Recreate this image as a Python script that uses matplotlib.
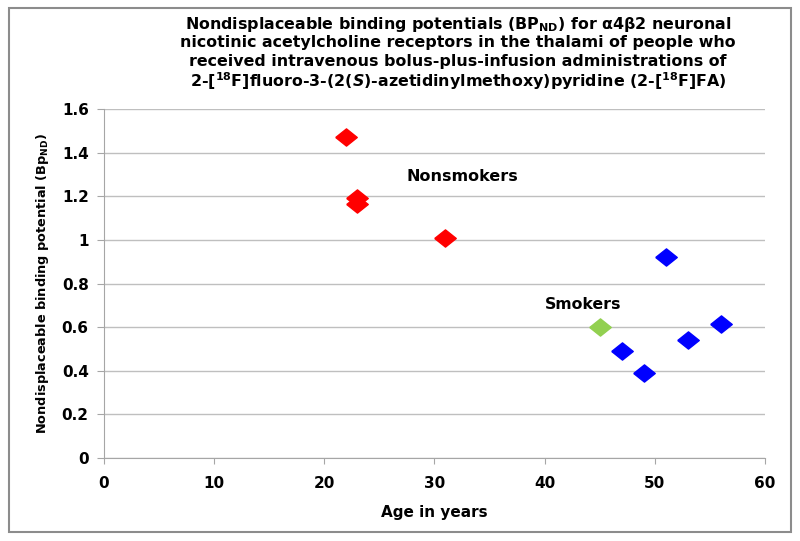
import matplotlib
matplotlib.use("Agg")
import matplotlib.pyplot as plt
from matplotlib.patches import Rectangle

plt.rcParams['font.family'] = ['DejaVu Sans']
plt.rcParams['font.weight'] = 'bold'
plt.rcParams['mathtext.fontset'] = 'custom'
plt.rcParams['mathtext.default'] = 'regular'
plt.rcParams['mathtext.it'] = 'DejaVu Sans:italic:bold'
plt.rcParams['mathtext.rm'] = 'DejaVu Sans:bold'

# data
nonsmoker_age = [22, 23, 23, 31]
nonsmoker_bp = [1.47, 1.19, 1.165, 1.01]
smoker_age = [47, 49, 51, 53, 56]
smoker_bp = [0.49, 0.39, 0.92, 0.54, 0.615]
green_age = [45]
green_bp = [0.60]

xticks = [0, 10, 20, 30, 40, 50, 60]
yticks = [0, 0.2, 0.4, 0.6, 0.8, 1, 1.2, 1.4, 1.6]
ytick_labels = ['0', '0.2', '0.4', '0.6', '0.8', '1', '1.2', '1.4', '1.6']

title_lines = ["Nondisplaceable binding potentials (BP$_{ND}$) for α4β2 neuronal",
               "nicotinic acetylcholine receptors in the thalami of people who",
               "received intravenous bolus-plus-infusion administrations of",
               "2-[$^{18}$F]fluoro-3-(2($\\it{S}$)-azetidinylmethoxy)pyridine (2-[$^{18}$F]FA)"]
title_y = [22, 41, 60, 79]  # pixel rows of the line centres

fig = plt.figure(figsize=(8, 5.41), dpi=100)
ax = fig.add_axes([0.13, 0.1534, 0.826, 0.6451])

# flattened diamond like the spreadsheet marker
diamond = [(-1, 0), (0, 0.8), (1, 0), (0, -0.8), (-1, 0)]
ms = 15.5
ax.plot(nonsmoker_age, nonsmoker_bp, ls='none', marker=diamond, ms=ms,
        color='#ff0000', mec='#ff0000', zorder=3)
ax.plot(smoker_age, smoker_bp, ls='none', marker=diamond, ms=ms,
        color='#0000ff', mec='#0000ff', zorder=3)
ax.plot(green_age, green_bp, ls='none', marker=diamond, ms=ms,
        color='#92d050', mec='#92d050', zorder=3)

ax.text(32.5, 1.29, 'Nonsmokers', ha='center', va='center', fontsize=11.5, fontweight='bold')
ax.text(43.5, 0.705, 'Smokers', ha='center', va='center', fontsize=11.3, fontweight='bold')

ax.set_xlim(0, 60)
ax.set_ylim(0, 1.6)
ax.set_xticks(xticks)
ax.set_yticks(yticks)
ax.set_yticklabels(ytick_labels)
ax.grid(axis='y', color='#bfbfbf', lw=1)
ax.set_axisbelow(True)
for s in ['top', 'right']:
    ax.spines[s].set_visible(False)
for s in ['left', 'bottom']:
    ax.spines[s].set_color('#a6a6a6')
ax.tick_params(axis='y', length=5, color='#a6a6a6', labelsize=11, pad=6)
ax.tick_params(axis='x', length=4, color='#a6a6a6', labelsize=11, pad=9)
for lab in ax.get_xticklabels() + ax.get_yticklabels():
    lab.set_fontweight('bold')

ax.set_xlabel('Age in years', fontsize=11, fontweight='bold', labelpad=10)
ax.set_ylabel('Nondisplaceable binding potential (Bp$_{ND}$)', fontsize=9.3,
              fontweight='bold', labelpad=8)

for line, py in zip(title_lines, title_y):
    fig.text(458 / 800, 1 - py / 541, line, ha='center', va='center_baseline',
             fontsize=11.4, fontweight='bold')

# outer frame
fig.patches.append(Rectangle((0.011, 0.017), 0.978, 0.968, transform=fig.transFigure,
                             fill=False, ec='#8c8c8c', lw=1.5))

fig.savefig('out.png', dpi=100)
